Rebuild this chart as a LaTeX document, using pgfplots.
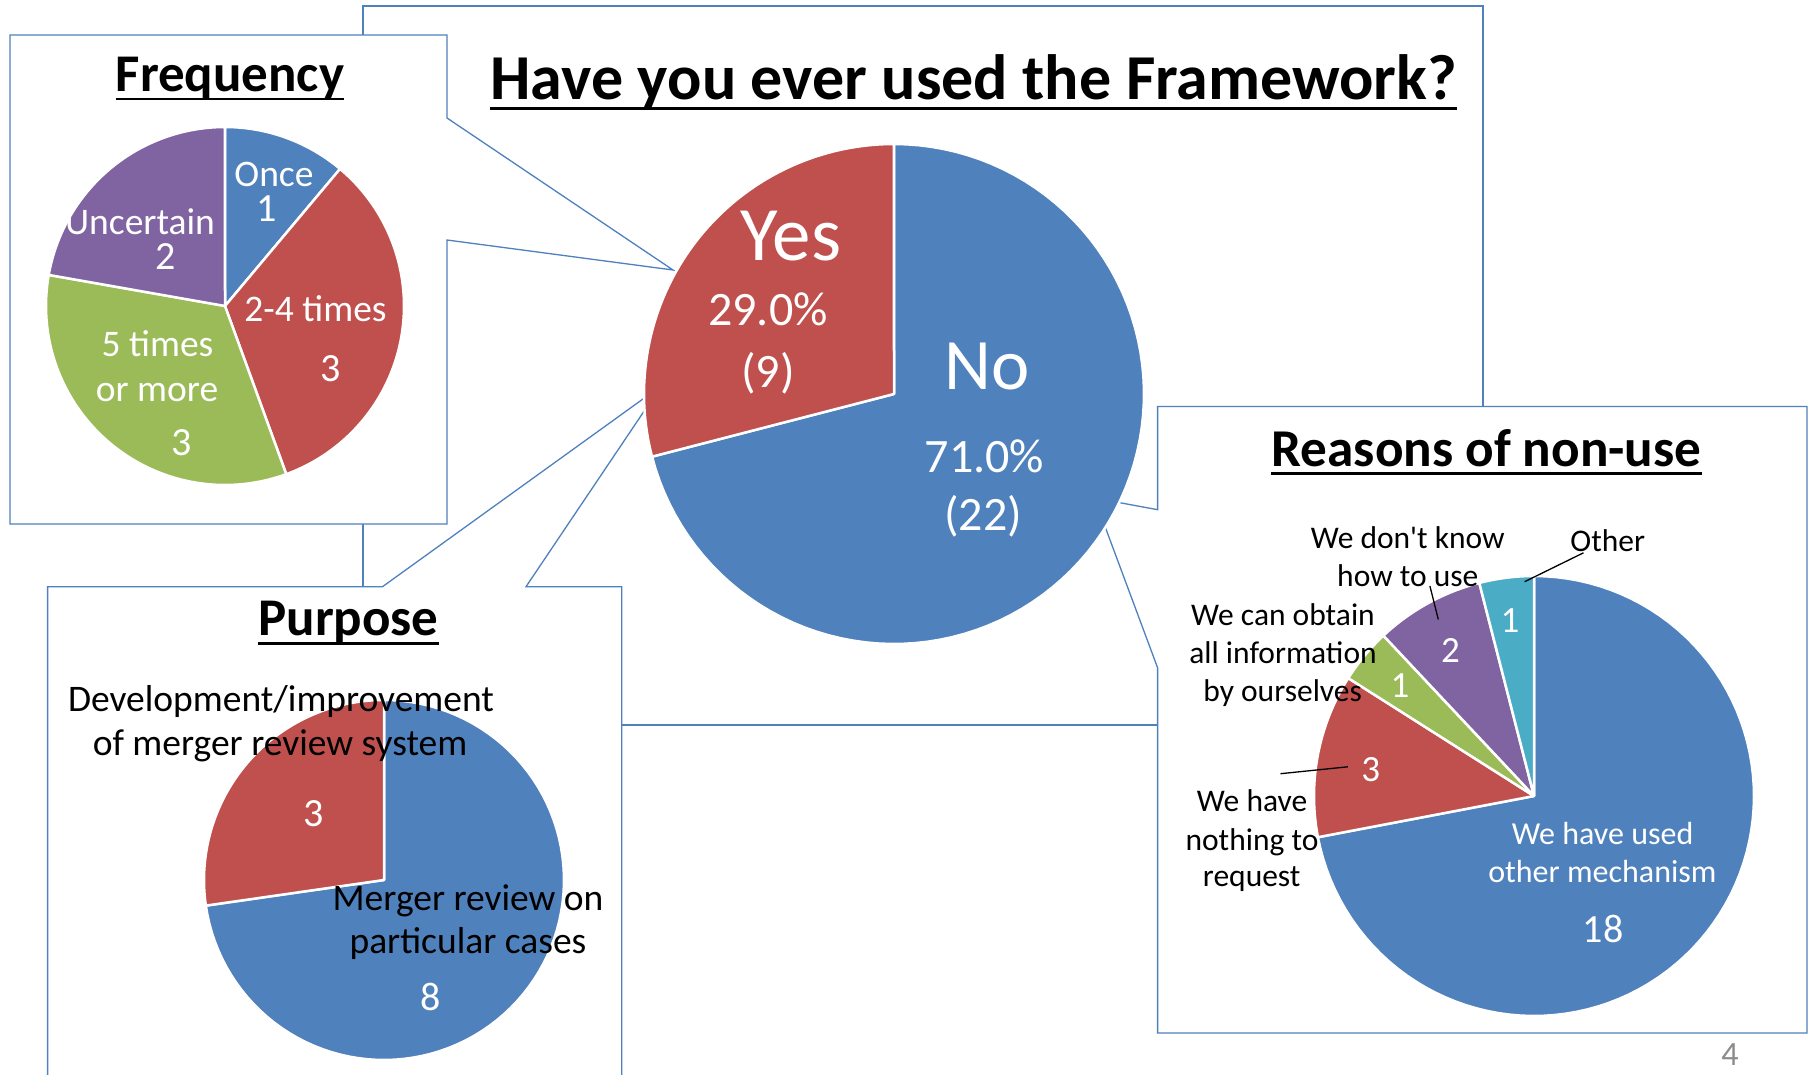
\documentclass[border=0pt]{standalone}
\usepackage{fontspec}
\setmainfont{Carlito}
\usepackage{pgfplots}
\pgfplotsset{compat=1.18}
\definecolor{pblue}{HTML}{4F81BD}
\definecolor{pred}{HTML}{C0504D}
\definecolor{pgreen}{HTML}{9BBB59}
\definecolor{ppurple}{HTML}{8064A2}
\definecolor{paqua}{HTML}{4BACC6}
\definecolor{boxc}{HTML}{4F81BD}
\definecolor{pgray}{HTML}{8C8C8C}
% slice: cx, cy, r, cumulative count before, cumulative count after, total, colour
\newcommand\slice[7]{%
 \addplot[fill=#7, draw=white, line width=2.5pt, line join=round,
   domain=360*#4/#6:360*#5/#6, samples=90, variable=\t]
 ({#1+#3*sin(\t)},{#2-#3*cos(\t)}) -- (axis cs:#1,#2) -- cycle;}
\newcommand\T[5]{\node[anchor=base, inner sep=0pt, text=#4, font=\fontsize{#3}{#3}\selectfont] at (axis cs:#1,#2) {#5};}
\newcommand\Title[6]{%
 \node[anchor=base, inner sep=0pt, font=\bfseries\fontsize{#3}{#3}\selectfont] (tt) at (axis cs:#1,#2) {#4};
 \draw[line width=#6pt] ([yshift=-#5pt]tt.base west) -- ([yshift=-#5pt]tt.base east);}
\begin{document}
\begin{tikzpicture}
\begin{axis}[x=1pt, y=1pt, xmin=0, xmax=1810, ymin=0, ymax=1075, y dir=reverse,
  hide axis, clip=false, anchor=south west, at={(0,0)}]
\fill[white] (axis cs:0,0) rectangle (axis cs:1810,1075);
% boxes
\draw[boxc, line width=1.3pt, fill=white] (axis cs:363,6) -- (axis cs:1483,6) -- (axis cs:1483,725) -- (axis cs:363,725) -- cycle;
\draw[boxc, line width=1.3pt, fill=white] (axis cs:10,35) -- (axis cs:447,35) -- (axis cs:447,118) -- (axis cs:673,270) -- (axis cs:447,240) -- (axis cs:447,524) -- (axis cs:10,524) -- cycle;
\draw[boxc, line width=1.3pt, fill=white] (axis cs:47.6,586.7) -- (axis cs:382.5,586.7) -- (axis cs:661,386) -- (axis cs:526,586.7) -- (axis cs:621.7,586.7) -- (axis cs:621.7,1090) -- (axis cs:47.6,1090) -- cycle;
\draw[boxc, line width=1.3pt, fill=white] (axis cs:1157.6,406.5) -- (axis cs:1807,406.5) -- (axis cs:1807,1033) -- (axis cs:1157.6,1033) -- (axis cs:1157.6,667.8) -- (axis cs:1094.4,498) -- (axis cs:1157.6,509.7) -- cycle;
% main pie: No 22, Yes 9
\slice{894}{394}{250}{0}{22}{31}{pblue}
\slice{894}{394}{250}{22}{31}{31}{pred}
% frequency: Once 1, 2-4 times 3, 5 times or more 3, Uncertain 2
\slice{225}{306}{179}{0}{1}{9}{pblue}
\slice{225}{306}{179}{1}{4}{9}{pred}
\slice{225}{306}{179}{4}{7}{9}{pgreen}
\slice{225}{306}{179}{7}{9}{9}{ppurple}
% purpose: Merger review 8, Development 3
\slice{384}{880}{180}{0}{8}{11}{pblue}
\slice{384}{880}{180}{8}{11}{11}{pred}
% reasons: used other 18, nothing 3, obtain 1, don't know 2, other 1
\slice{1534}{796}{220}{0}{18}{25}{pblue}
\slice{1534}{796}{220}{18}{21}{25}{pred}
\slice{1534}{796}{220}{21}{22}{25}{pgreen}
\slice{1534}{796}{220}{22}{24}{25}{ppurple}
\slice{1534}{796}{220}{24}{25}{25}{paqua}
% titles
\Title{973.8}{100}{64}{Have you ever used the Framework?}{8.5}{3.8}
\Title{230}{91.7}{53}{Frequency}{7.3}{2.8}
\Title{348.5}{635}{53}{Purpose}{8.3}{3}
\Title{1486.5}{466.7}{53.2}{Reasons of non-use}{6.5}{3}
% main labels
\T{791}{260.5}{77}{white}{Yes}
\T{768}{325.6}{48}{white}{29.0\%}
\T{768}{387}{48}{white}{(9)}
\T{987.5}{389.3}{72.5}{white}{No}
\T{984.5}{472}{48}{white}{71.0\%}
\T{983}{530.5}{48}{white}{(22)}
% frequency labels
\T{274}{187}{37.5}{white}{Once}
\T{267}{221.7}{40}{white}{1}
\T{140}{235}{37.5}{white}{Uncertain}
\T{166}{270}{40}{white}{2}
\T{315.5}{321.7}{37.5}{white}{2-4 times}
\T{331}{381.7}{40}{white}{3}
\T{157.5}{356.7}{37.5}{white}{5 times}
\T{157}{401.7}{37.5}{white}{or more}
\T{181.7}{455}{40}{white}{3}
% purpose labels
\T{281}{711.7}{37.5}{black}{Development/improvement}
\T{280}{755}{37.5}{black}{of merger review system}
\T{313.6}{826.7}{40}{white}{3}
\T{468}{910}{37.5}{black}{Merger review on}
\T{468}{953.3}{37.5}{black}{particular cases}
\T{430.8}{1010.7}{40}{white}{8}
% reasons labels
\T{1602.6}{844.3}{32}{white}{We have used}
\T{1602.4}{882}{32}{white}{other mechanism}
\T{1603}{942.4}{40}{white}{18}
\T{1510}{632.5}{37}{white}{1}
\T{1450.5}{662.6}{37}{white}{2}
\T{1400}{697}{37}{white}{1}
\T{1370.8}{781}{37}{white}{3}
\T{1607.7}{551.5}{31.5}{black}{Other}
\T{1407.8}{548.5}{31.5}{black}{We don\textquotesingle t know}
\T{1407.8}{586}{31.5}{black}{how to use}
\T{1283}{625}{31.5}{black}{We can obtain}
\T{1283}{663.5}{31.5}{black}{all information}
\T{1282.6}{701.3}{31.5}{black}{by ourselves}
\T{1252}{811}{31.5}{black}{We have}
\T{1252}{850}{31.5}{black}{nothing to}
\T{1251.7}{886.4}{31.5}{black}{request}
\draw[black, line width=1.3pt] (axis cs:1583.5,552.8) -- (axis cs:1524.6,581.7);
\draw[black, line width=1.3pt] (axis cs:1429.9,586) -- (axis cs:1438.3,619.5);
\draw[black, line width=1.3pt] (axis cs:1280.5,773.7) -- (axis cs:1347.8,766.8);
\T{1730}{1065}{34}{pgray}{4}
\end{axis}
\pgfresetboundingbox
\path (current axis.south west) rectangle (current axis.north east);
\end{tikzpicture}
\end{document}
